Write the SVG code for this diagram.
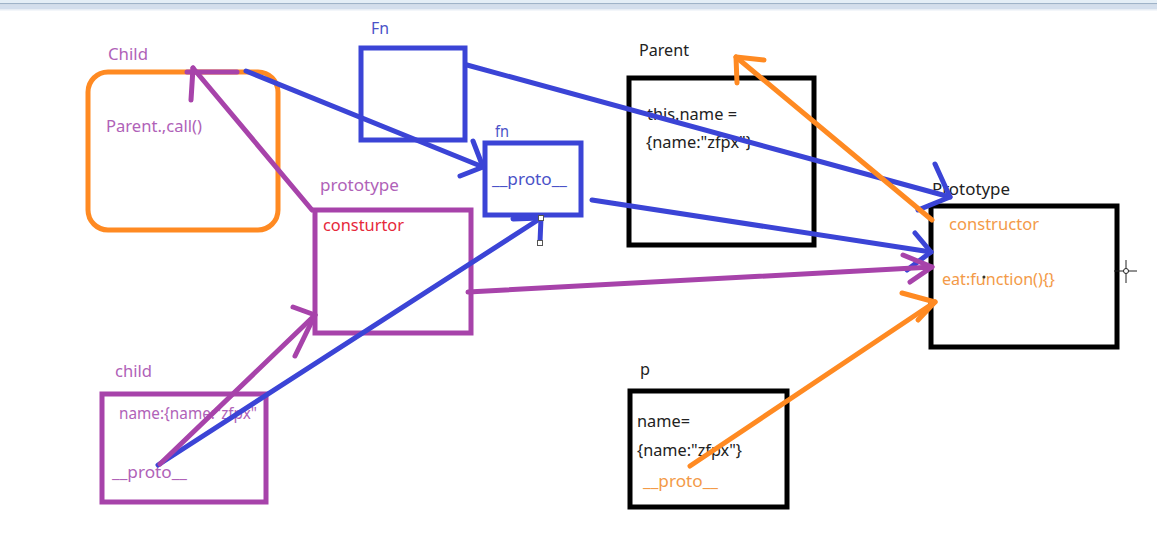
<svg xmlns="http://www.w3.org/2000/svg" width="1157" height="558" viewBox="0 0 1157 558">
<style>
text{font-family:"Noto Sans","Open Sans","Liberation Sans",sans-serif;font-size:16px}
.box{fill:none;stroke-width:5}
.k{stroke:#000}.b{stroke:#3b44d6}.pu{stroke:#a743aa}.o{stroke:#ff8a22}
.c line,.c polyline{fill:none;stroke-width:5;stroke-linecap:round;stroke-linejoin:round}
.tk{fill:#222}.tb{fill:#4a52c8}.tp{fill:#b062b8}.to{fill:#f39a48}.tr{fill:#e6283a}
</style>
<rect x="0" y="0" width="1157" height="558" fill="#fff"/>
<rect x="0" y="0" width="1157" height="3" fill="#e4eef6"/>
<rect x="0" y="3" width="1157" height="1.5" fill="#9fb3c8"/>
<rect x="0" y="4.5" width="1157" height="5" fill="#d3deec"/>
<rect x="0" y="9.5" width="1157" height="1" fill="#e8eef5"/>

<g id="Child">
<rect class="box o" x="88" y="72" width="190" height="158" rx="20"/>
<text class="tp" x="108" y="60" textLength="40" lengthAdjust="spacingAndGlyphs">Child</text>
<text class="tp" x="106" y="132" textLength="96" lengthAdjust="spacingAndGlyphs">Parent.,call()</text>
</g>
<g id="Fn">
<rect class="box b" x="361" y="48" width="104" height="92"/>
<text class="tb" x="371" y="34" textLength="18" lengthAdjust="spacingAndGlyphs">Fn</text>
</g>
<g id="fn">
<rect class="box b" x="485" y="143" width="96" height="72"/>
<text class="tb" x="495" y="137" textLength="14" lengthAdjust="spacingAndGlyphs">fn</text>
<text class="tb" x="492" y="185" textLength="75" lengthAdjust="spacingAndGlyphs">__proto__</text>
</g>
<g id="Parent">
<rect class="box k" x="629" y="78" width="185" height="167"/>
<text class="tk" x="639" y="56" textLength="50" lengthAdjust="spacingAndGlyphs">Parent</text>
<text class="tk" x="647" y="120" textLength="90" lengthAdjust="spacingAndGlyphs">this.name =</text>
<text class="tk" x="646" y="148" textLength="106" lengthAdjust="spacingAndGlyphs">{name:"zfpx"}</text>
</g>
<g id="Prototype">
<rect class="box k" x="931" y="206" width="186" height="141"/>
<text class="tk" x="932" y="195" textLength="78" lengthAdjust="spacingAndGlyphs">Prototype</text>
<text class="to" x="949" y="230" textLength="90" lengthAdjust="spacingAndGlyphs">constructor</text>
<text class="to" x="942" y="285" textLength="113" lengthAdjust="spacingAndGlyphs">eat:function(){}</text>
<circle cx="984" cy="277" r="1.5" fill="#333"/>
</g>
<g id="prototype">
<rect class="box pu" x="315" y="210" width="156" height="123"/>
<text class="tp" x="320" y="191" textLength="79" lengthAdjust="spacingAndGlyphs">prototype</text>
<text class="tr" x="323" y="231" textLength="81" lengthAdjust="spacingAndGlyphs">consturtor</text>
</g>
<g id="child">
<rect class="box pu" x="102" y="394" width="164" height="108"/>
<text class="tp" x="115" y="377" textLength="37" lengthAdjust="spacingAndGlyphs">child</text>
<text class="tp" x="119" y="419" textLength="138" lengthAdjust="spacingAndGlyphs">name:{name:"zfpx"</text>
<text class="tp" x="112" y="478" textLength="75" lengthAdjust="spacingAndGlyphs">__proto__</text>
</g>
<g id="p">
<rect class="box k" x="630" y="391" width="157" height="116"/>
<text class="tk" x="640" y="375" textLength="10" lengthAdjust="spacingAndGlyphs">p</text>
<text class="tk" x="637" y="427" textLength="53" lengthAdjust="spacingAndGlyphs">name=</text>
<text class="tk" x="637" y="456" textLength="105" lengthAdjust="spacingAndGlyphs">{name:"zfpx"}</text>
<text class="to" x="643" y="487" textLength="75" lengthAdjust="spacingAndGlyphs">__proto__</text>
</g>

<g id="connectors" class="c">
<line class="b" x1="246" y1="71" x2="483" y2="167"/>
<polyline class="b" points="473,141 483,167 460,176"/>
<line class="b" x1="467" y1="65" x2="950" y2="197"/>
<polyline class="b" points="935,164 950,197 918,210"/>
<line class="b" x1="592" y1="200" x2="931" y2="252"/>
<polyline class="b" points="915,233 931,252 907,270"/>
<line class="b" x1="158" y1="465" x2="541" y2="218"/>
<polyline class="b" points="513,219 541,218 540,242"/>
<line class="pu" x1="312" y1="210" x2="193" y2="68"/>
<line class="pu" x1="193" y1="68" x2="191" y2="100"/>
<line class="pu" x1="187" y1="72" x2="237" y2="72"/>
<line class="pu" x1="160" y1="464" x2="315" y2="315"/>
<polyline class="pu" points="293,307 315,315 295,356"/>
<line class="pu" x1="468" y1="292" x2="932" y2="267"/>
<polyline class="pu" points="903,255 932,267 910,282"/>
<line class="o" x1="932" y1="220" x2="736" y2="57"/>
<polyline class="o" points="764,60 736,57 737,83"/>
<line class="o" x1="690" y1="466" x2="935" y2="302"/>
<polyline class="o" points="902,293 935,302 918,320"/>
</g>
<rect x="538.5" y="215.5" width="5" height="5" fill="#fff" stroke="#555" stroke-width="1"/>
<rect x="537.5" y="240.5" width="5" height="5" fill="#fff" stroke="#555" stroke-width="1"/>
<g id="cursor" stroke="#222" stroke-width="1" fill="none">
<line x1="1114" y1="271" x2="1137" y2="271"/>
<line x1="1126" y1="260" x2="1126" y2="283"/>
<circle cx="1126" cy="271" r="2.5" fill="#fff"/>
</g>
</svg>
